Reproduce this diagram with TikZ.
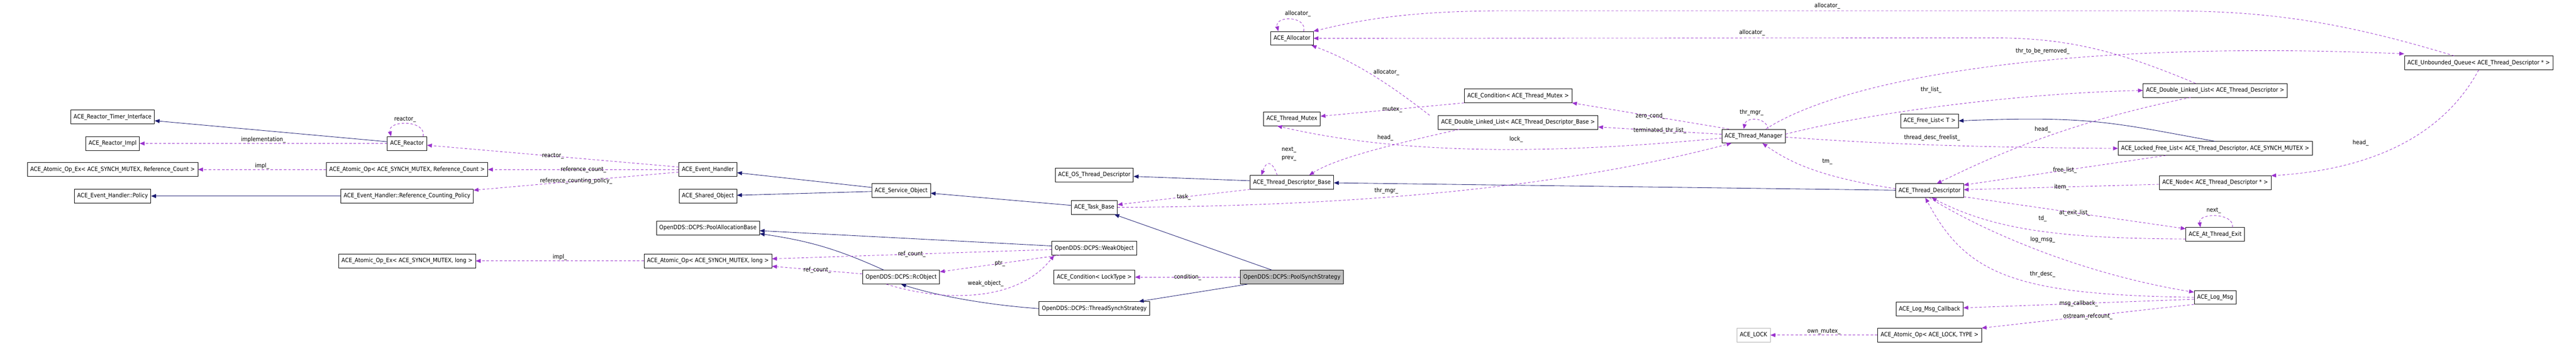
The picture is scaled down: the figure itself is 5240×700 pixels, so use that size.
\documentclass[tikz,border=0pt]{standalone}
\usepackage{fontspec}
\setmainfont{DejaVu Sans Condensed}
\usetikzlibrary{arrows.meta}
\definecolor{inhcol}{HTML}{191970}
\definecolor{usecol}{HTML}{9A32CD}
\begin{document}
\begin{tikzpicture}[x=1pt,y=1pt]
        \tikzstyle{box}=[rectangle, draw=black, fill=white, line width=0.8pt, inner xsep=6pt, minimum height=28pt, font=\fontsize{12}{14}\selectfont, text=black]
        \tikzstyle{lbl}=[inner sep=1pt, font=\fontsize{12}{14}\selectfont, text=black]
        \tikzstyle{inh}=[inhcol, line width=0.9pt, -{Triangle[length=10pt,width=8pt]}]
        \tikzstyle{use}=[usecol, line width=0.9pt, dashed, dash pattern=on 5pt off 4pt, -{Triangle[length=10pt,width=8pt]}]
        \useasboundingbox (0,0) rectangle (5240,-700);

        \node[box] (timer)     at (229,-238)  {ACE\_Reactor\_Timer\_Interface};
        \node[box] (rimpl)     at (229,-292)  {ACE\_Reactor\_Impl};
        \node[box] (aoexref)   at (229,-345)  {ACE\_Atomic\_Op\_Ex< ACE\_SYNCH\_MUTEX, Reference\_Count >};
        \node[box] (policy)    at (229,-399)  {ACE\_Event\_Handler::Policy};
        \node[box] (reactor)   at (828,-292)  {ACE\_Reactor};
        \node[box] (aoref)     at (828,-345)  {ACE\_Atomic\_Op< ACE\_SYNCH\_MUTEX, Reference\_Count >};
        \node[box] (rcpolicy)  at (828,-399)  {ACE\_Event\_Handler::Reference\_Counting\_Policy};
        \node[box] (aoexlong)  at (828,-531)  {ACE\_Atomic\_Op\_Ex< ACE\_SYNCH\_MUTEX, long >};
        \node[box] (evh)       at (1440,-345) {ACE\_Event\_Handler};
        \node[box] (shobj)     at (1440,-399) {ACE\_Shared\_Object};
        \node[box] (pooalloc)  at (1440,-464) {OpenDDS::DCPS::PoolAllocationBase};
        \node[box] (aolong)    at (1440,-531) {ACE\_Atomic\_Op< ACE\_SYNCH\_MUTEX, long >};
        \node[box] (svcobj)    at (1833,-388) {ACE\_Service\_Object};
        \node[box] (rcobj)     at (1833,-564) {OpenDDS::DCPS::RcObject};
        \node[box] (osthr)     at (2226,-356) {ACE\_OS\_Thread\_Descriptor};
        \node[box] (task)      at (2226,-422) {ACE\_Task\_Base};
        \node[box] (weakobj)   at (2226,-505) {OpenDDS::DCPS::WeakObject};
        \node[box] (condlock)  at (2226,-564) {ACE\_Condition< LockType >};
        \node[box] (thrsynch)  at (2226,-628) {OpenDDS::DCPS::ThreadSynchStrategy};
        \node[box, fill=gray!50] (poolsynch) at (2628,-564) {OpenDDS::DCPS::PoolSynchStrategy};
        \node[box] (alloc)     at (2628,-78)  {ACE\_Allocator};
        \node[box] (thrmutex)  at (2628,-242) {ACE\_Thread\_Mutex};
        \node[box] (tdbase)    at (2628,-371) {ACE\_Thread\_Descriptor\_Base};
        \node[box] (condmutex) at (3088,-195) {ACE\_Condition< ACE\_Thread\_Mutex >};
        \node[box] (dllbase)   at (3088,-249) {ACE\_Double\_Linked\_List< ACE\_Thread\_Descriptor\_Base >};
        \node[box] (thrmgr)    at (3567,-277) {ACE\_Thread\_Manager};
        \node[box, draw=gray!60] (acelock) at (3567,-682) {ACE\_LOCK};
        \node[box] (freelist)  at (3925,-246) {ACE\_Free\_List< T >};
        \node[box] (tdesc)     at (3925,-388) {ACE\_Thread\_Descriptor};
        \node[box] (logcb)     at (3925,-629) {ACE\_Log\_Msg\_Callback};
        \node[box] (aolock)    at (3925,-682) {ACE\_Atomic\_Op< ACE\_LOCK, TYPE >};
        \node[box] (dlldesc)   at (4506,-184) {ACE\_Double\_Linked\_List< ACE\_Thread\_Descriptor >};
        \node[box] (lockfree)  at (4506,-302) {ACE\_Locked\_Free\_List< ACE\_Thread\_Descriptor, ACE\_SYNCH\_MUTEX >};
        \node[box] (tdnode)    at (4506,-372) {ACE\_Node< ACE\_Thread\_Descriptor * >};
        \node[box] (atexit)    at (4506,-477) {ACE\_At\_Thread\_Exit};
        \node[box] (logmsg)    at (4506,-605) {ACE\_Log\_Msg};
        \node[box] (uqueue)    at (5042,-128) {ACE\_Unbounded\_Queue< ACE\_Thread\_Descriptor * >};

        % inheritance
        \draw[inh] (reactor) -- (timer);
        \draw[inh] (rcpolicy) -- (policy);
        \draw[inh] (svcobj) -- (evh);
        \draw[inh] (svcobj) -- (shobj);
        \draw[inh] (task) -- (svcobj);
        \draw[inh] (tdbase) -- (osthr);
        \draw[inh] (tdesc) -- (tdbase);
        \draw[inh] (poolsynch) -- (task);
        \draw[inh] (poolsynch) -- (thrsynch);
        \draw[inh] (thrsynch.west) .. controls (2000,-620) and (1900,-600) .. (rcobj.south);
        \draw[inh] (rcobj) to[bend right=8] (pooalloc);
        \draw[inh] (weakobj) -- (pooalloc);
        \draw[inh] (lockfree.north) .. controls (4300,-250) and (4250,-235) .. (freelist.east);

        % usage
        \draw[use] (reactor) -- node[lbl, above] {implementation\_} (rimpl);
        \draw[use] ([xshift=-8pt]reactor.north east) .. controls +(8,34) and +(-8,34) .. ([xshift=8pt]reactor.north west) node[lbl, at={(824,-243)}] {reactor\_};
        \draw[use] (evh) -- node[lbl, at={(1154,-293)}] {reactor\_} (reactor);
        \draw[use] (evh) -- node[lbl, at={(1153,-335)}] {reference\_count\_} (aoref);
        \draw[use] (evh) -- node[lbl, at={(1155,-358)}] {reference\_counting\_policy\_} (rcpolicy);
        \draw[use] (aoref) -- node[lbl, above] {impl\_} (aoexref);
        \draw[use] (aolong) -- node[lbl, above] {impl\_} (aoexlong);
        \draw[use] (weakobj) -- node[lbl, at={(1830,-504)}] {ref\_count\_} (aolong);
        \draw[use] (rcobj) -- node[lbl, at={(1662,-537)}] {ref\_count\_} (aolong);
        \draw[use] ([xshift=-70pt]weakobj.south) -- node[lbl, at={(2005,-529)}] {ptr\_} (rcobj);
        \draw[use] ([xshift=-30pt]rcobj.south) .. controls (1920,-615) and (2070,-615) .. ([xshift=5pt]weakobj.south west) node[lbl, at={(2005,-577)}] {weak\_object\_};
        \draw[use] (poolsynch) -- node[lbl, at={(2427,-555)}] {condition\_} (condlock);
        \draw[use] (tdbase.south west) -- node[lbl, at={(2427,-384)}] {task\_} (task);
        \draw[use] ([xshift=-30pt]tdbase.north) .. controls +(-10,30) and +(10,30) .. ([xshift=-62pt]tdbase.north) node[lbl, at={(2622,-305)}] {next\_} node[lbl, at={(2622,-322)}] {prev\_};
        \draw[use] (task.east) .. controls (2700,-420) and (3150,-390) .. ([xshift=-45pt]thrmgr.south) node[lbl, at={(2820,-388)}] {thr\_mgr\_};
        \draw[use] ([xshift=-20pt]alloc.north east) .. controls +(8,32) and +(-8,32) .. ([xshift=16pt]alloc.north west) node[lbl, at={(2640,-28)}] {allocator\_};
        \draw[use] ([xshift=-180pt]dllbase.north) .. controls (2850,-190) and (2770,-130) .. ([xshift=40pt]alloc.south) node[lbl, at={(2820,-147)}] {allocator\_};
        \draw[use] ([xshift=-120pt]dllbase.south) .. controls (2850,-290) and (2720,-320) .. ([xshift=35pt]tdbase.north) node[lbl, at={(2818,-280)}] {head\_};
        \draw[use] (condmutex.south west) -- node[lbl, at={(2817,-211)}] {mutex\_} (thrmutex);
        \draw[use] ([xshift=-50pt]thrmgr.north) -- node[lbl, at={(3386,-208)}] {zero\_cond\_} (condmutex.south east);
        \draw[use] (thrmgr) -- node[lbl, at={(3386,-253)}] {terminated\_thr\_list\_} (dllbase);
        \draw[use] ([yshift=-4pt]thrmgr.west) .. controls (3150,-315) and (2850,-315) .. ([xshift=-30pt]thrmutex.south) node[lbl, at={(3084,-283)}] {lock\_};
        \draw[use] ([xshift=30pt]thrmgr.north) .. controls +(-5,25) and +(5,25) .. ([xshift=-20pt]thrmgr.north) node[lbl, at={(3563,-229)}] {thr\_mgr\_};
        \draw[use] ([yshift=4pt]tdesc.west) .. controls (3700,-360) and (3640,-330) .. ([xshift=18pt]thrmgr.south) node[lbl, at={(3717,-329)}] {tm\_};
        \draw[use] ([xshift=25pt]thrmgr.north) .. controls (3750,-160) and (4200,-80) .. ([yshift=4pt]uqueue.north west) node[lbl, at={(4155,-104)}] {thr\_to\_be\_removed\_};
        \draw[use] ([yshift=4pt]thrmgr.east) .. controls (3800,-230) and (4100,-190) .. (dlldesc.west) node[lbl, at={(3928,-183)}] {thr\_list\_};
        \draw[use] ([yshift=-2pt]thrmgr.east) .. controls (3850,-295) and (4050,-300) .. (lockfree.west) node[lbl, at={(3930,-280)}] {thread\_desc\_freelist\_};
        \draw[use] ([xshift=-50pt]uqueue.north) .. controls (4750,-40) and (4600,-22) .. (4400,-22) -- (3060,-22) .. controls (2850,-22) and (2750,-45) .. (alloc.north east) node[lbl, at={(3717,-12)}] {allocator\_};
        \draw[use] ([xshift=-40pt]dlldesc.north) .. controls (4300,-100) and (4200,-77) .. (4050,-77) -- (alloc.east) node[lbl, at={(3564,-67)}] {allocator\_};
        \draw[use] ([xshift=-50pt]dlldesc.south) .. controls (4200,-250) and (4050,-320) .. ([xshift=-55pt]tdesc.north east) node[lbl, at={(4155,-264)}] {head\_};
        \draw[use] ([xshift=-100pt]lockfree.south) -- node[lbl, at={(4155,-335)}] {free\_list\_} ([yshift=-3pt]tdesc.north east);
        \draw[use] (tdnode) -- node[lbl, at={(4155,-376)}] {item\_} (tdesc);
        \draw[use] ([yshift=2pt]tdesc.south east) -- node[lbl, at={(4155,-405)}] {at\_exit\_list\_} ([yshift=-3pt]atexit.north west);
        \draw[use] ([yshift=5pt]atexit.south west) .. controls (4200,-485) and (4060,-470) .. ([xshift=-65pt]tdesc.south east) node[lbl, at={(4155,-445)}] {td\_};
        \draw[use] ([xshift=-25pt]atexit.north east) .. controls +(5,30) and +(-5,30) .. ([xshift=30pt]atexit.north west) node[lbl, at={(4503,-428)}] {next\_};
        \draw[use] ([xshift=-70pt]tdesc.south east) .. controls (4050,-480) and (4250,-560) .. ([yshift=-4pt]logmsg.north west) node[lbl, at={(4155,-488)}] {log\_msg\_};
        \draw[use] (logmsg.west) .. controls (4100,-600) and (4000,-560) .. ([xshift=-78pt]tdesc.south east) node[lbl, at={(4155,-558)}] {thr\_desc\_};
        \draw[use] ([yshift=-4pt]logmsg.west) -- node[lbl, at={(4155,-618)}] {msg\_callback\_} (logcb);
        \draw[use] (logmsg.south west) -- node[lbl, at={(4155,-643)}] {ostream\_refcount\_} (aolock.north east);
        \draw[use] (aolock) -- node[lbl, above] {own\_mutex\_} (acelock);
        \draw[use] (uqueue.south) .. controls (5000,-220) and (4900,-340) .. (tdnode.north east) node[lbl, at={(4802,-291)}] {head\_};
    \end{tikzpicture}
\end{document}
